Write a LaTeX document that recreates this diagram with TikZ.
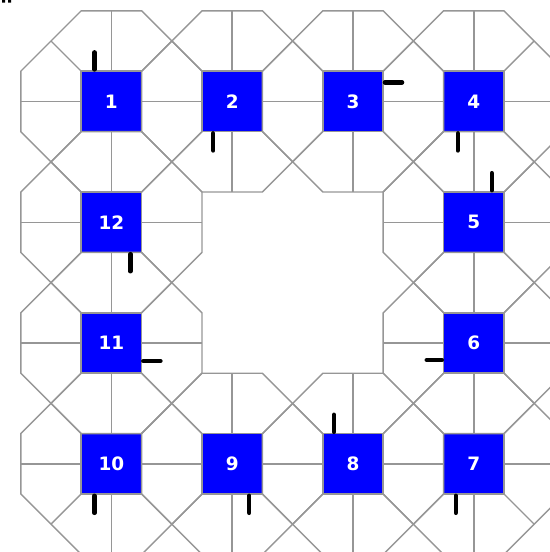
\documentclass[tikz,border=0pt]{standalone}
\usepackage{fontspec}
\newfontfamily\labelfont{DejaVu Sans}
\usetikzlibrary{calc}
\definecolor{edgegray}{RGB}{150,150,150}
\definecolor{cellblue}{RGB}{0,0,255}
\tikzset{
  every picture/.style={x=0.02cm, y=-0.02cm, line join=miter},
  % Linien
  grid/.style={edgegray, line width=0.8pt},
  tick/.style={black, line width=2.6pt, line cap=round},
  % Felder
  cell/.style={rectangle, draw=edgegray, line width=0.85pt, fill=cellblue, text=white,
    minimum size=1.208cm, inner sep=0pt, outer sep=0pt, font=\labelfont\bfseries\fontsize{10.5}{12}\selectfont},
}
\begin{document}
\begin{tikzpicture}
  \def\P{120.8} \def\A{30.2}
  \useasboundingbox (0,0) rectangle (550,552);
  \clip (0,0) rectangle (550,552);
  % Reste am oberen Rand
  \fill[black] (2,0) rectangle (5,2.5) (8,0) rectangle (11,2.5);
  % Felder
  \foreach \n/\i/\j in {1/0/0, 2/1/0, 3/2/0, 4/3/0, 5/3/1, 6/3/2,
      7/3/3, 8/2/3, 9/1/3, 10/0/3, 11/0/2, 12/0/1} {
    \node[cell] (sq\n) at (111.4+\i*\P,101.4+\j*\P) {\n};
  }
  % Achtecke und Speichen
  \foreach \n in {1,...,12} {
    \draw[grid] ($(sq\n)+(-\A,-3*\A)$) -- ++(2*\A,0) -- ++(2*\A,2*\A) -- ++(0,2*\A) -- ++(-2*\A,2*\A)
      -- ++(-2*\A,0) -- ++(-2*\A,-2*\A) -- ++(0,-2*\A) -- cycle;
    \draw[grid] (sq\n.north) -- ++(0,-2*\A) (sq\n.south) -- ++(0,2*\A)
      (sq\n.west) -- ++(-2*\A,0) (sq\n.east) -- ++(2*\A,0);
    \draw[grid] (sq\n.north west) -- ++(-\A,-\A) (sq\n.north east) -- ++(\A,-\A)
      (sq\n.south west) -- ++(-\A,\A) (sq\n.south east) -- ++(\A,\A);
  }
  % Marken an den Feldern
  \foreach \n/\ox/\oy/\lx/\ly in {1/-17/-32/0/-17, 2/-19/32/0/17, 3/32/-19/17/0, 4/-16/32/0/17,
      5/18/-32/0/-17, 6/-32/17/-15/0, 7/-18/32/0/17, 8/-19/-32/0/-17, 9/17/32/0/17,
      10/-17/32/0/17, 11/32/18/17/0, 12/19/32/0/17} {
    \draw[tick] ($(sq\n)+(\ox,\oy)$) -- ++(\lx,\ly);
  }
\end{tikzpicture}
\end{document}
